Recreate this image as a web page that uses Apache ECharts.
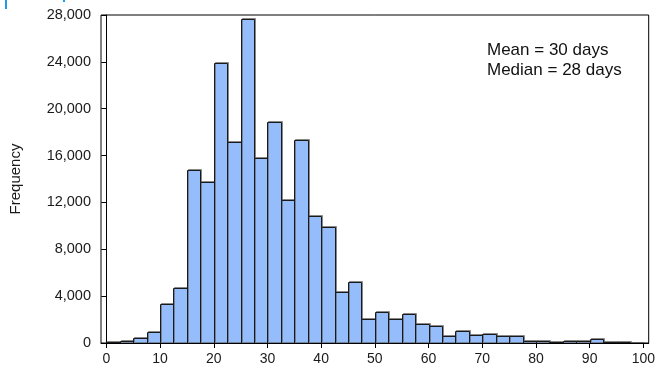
<!DOCTYPE html>
<html>
<head>
<meta charset="utf-8">
<script src="https://cdn.jsdelivr.net/npm/echarts@6/dist/echarts.min.js"></script>
<style>
  html, body { margin: 0; padding: 0; background: #ffffff; }
  #chart { width: 658px; height: 366px; }
</style>
</head>
<body>
<div id="chart"></div>
<script>
// Histogram of durations (days), bins of 2.5 days
const binStarts = [0, 2.5, 5, 7.5, 10, 12.5, 15, 17.5, 20, 22.5,
                   25, 27.5, 30, 32.5, 35, 37.5, 40, 42.5, 45, 47.5,
                   50, 52.5, 55, 57.5, 60, 62.5, 65, 67.5, 70, 72.5,
                   75, 77.5, 80, 82.5, 85, 87.5, 90, 92.5, 95, 97.5];
const binWidth = 2.5;
const frequencies = [100, 150, 400, 950, 3350, 4700, 14800, 13750, 23900, 17200,
                     27650, 15800, 18850, 12200, 17300, 10800, 9900, 4350, 5200, 2050,
                     2650, 2050, 2500, 1650, 1450, 600, 1000, 650, 800, 600,
                     600, 200, 180, 120, 200, 180, 340, 80, 50, 20];
const xTicks = [0, 10, 20, 30, 40, 50, 60, 70, 80, 90, 100];
const yTicks = [0, 4000, 8000, 12000, 16000, 20000, 24000, 28000];
const notes = ['Mean = 30 days', 'Median = 28 days'];

const FONT = '"Liberation Sans", Arial, sans-serif';

const histData = binStarts.map((s, i) => [s, s + binWidth, frequencies[i]]);

const chart = echarts.init(document.getElementById('chart'), null, { renderer: 'canvas' });

chart.setOption({
  animation: false,
  backgroundColor: '#ffffff',
  grid: {
    left: 101, right: 8, top: 15, bottom: 23,
    show: true, borderColor: '#000000', borderWidth: 1, backgroundColor: 'transparent'
  },
  xAxis: {
    type: 'value',
    min: -1,
    max: 101,
    axisLine: { show: true, lineStyle: { color: '#000000', width: 1 } },
    axisTick: { show: true, length: 5, lineStyle: { color: '#000000' }, customValues: xTicks },
    axisLabel: {
      customValues: xTicks, margin: 9,
      color: '#1a1a1a', fontSize: 14, fontFamily: FONT
    },
    splitLine: { show: false }
  },
  yAxis: {
    type: 'value',
    min: 0,
    max: 28000,
    interval: 4000,
    name: 'Frequency',
    nameLocation: 'middle',
    nameRotate: 90,
    nameGap: 78,
    nameTextStyle: { color: '#1a1a1a', fontSize: 15, fontFamily: FONT },
    axisLine: { show: true, lineStyle: { color: '#000000', width: 1 } },
    axisTick: { show: true, length: 5, lineStyle: { color: '#000000' } },
    axisLabel: {
      margin: 10, color: '#1a1a1a', fontSize: 14.5, fontFamily: FONT,
      formatter: v => yTicks.includes(v) ? v.toLocaleString('en-US') : ''
    },
    splitLine: { show: false }
  },
  series: [{
    type: 'custom',
    data: histData,
    encode: { x: [0, 1], y: 2 },
    clip: true,
    renderItem: function (params, api) {
      const top = api.coord([api.value(0), api.value(2)]);
      const base = api.coord([api.value(1), 0]);
      const x = Math.round(top[0]) + 0.5;
      const x2 = Math.round(base[0]) + 0.5;
      const y = Math.round(top[1]) + 0.5;
      const y2 = Math.round(base[1]) + 0.5;
      return {
        type: 'rect',
        shape: { x: x, y: y, width: x2 - x, height: y2 - y },
        style: {
          fill: '#96bdfb',
          stroke: '#1a1a1a',
          lineWidth: 1,
          shadowColor: 'rgba(90,90,90,0.6)',
          shadowOffsetX: 1,
          shadowOffsetY: -1,
          shadowBlur: 0
        }
      };
    }
  }],
  graphic: [
    {
      type: 'text', left: 487, top: 40,
      style: {
        text: notes.join('\n'),
        font: '17px ' + FONT,
        lineHeight: 20,
        fill: '#111111'
      }
    },
    { type: 'rect', left: 5, top: 0, shape: { width: 2, height: 9 }, style: { fill: '#1e9be8' } },
    { type: 'rect', left: 63, top: 0, shape: { width: 2, height: 2 }, style: { fill: '#1e9be8' } }
  ]
});
</script>
</body>
</html>
